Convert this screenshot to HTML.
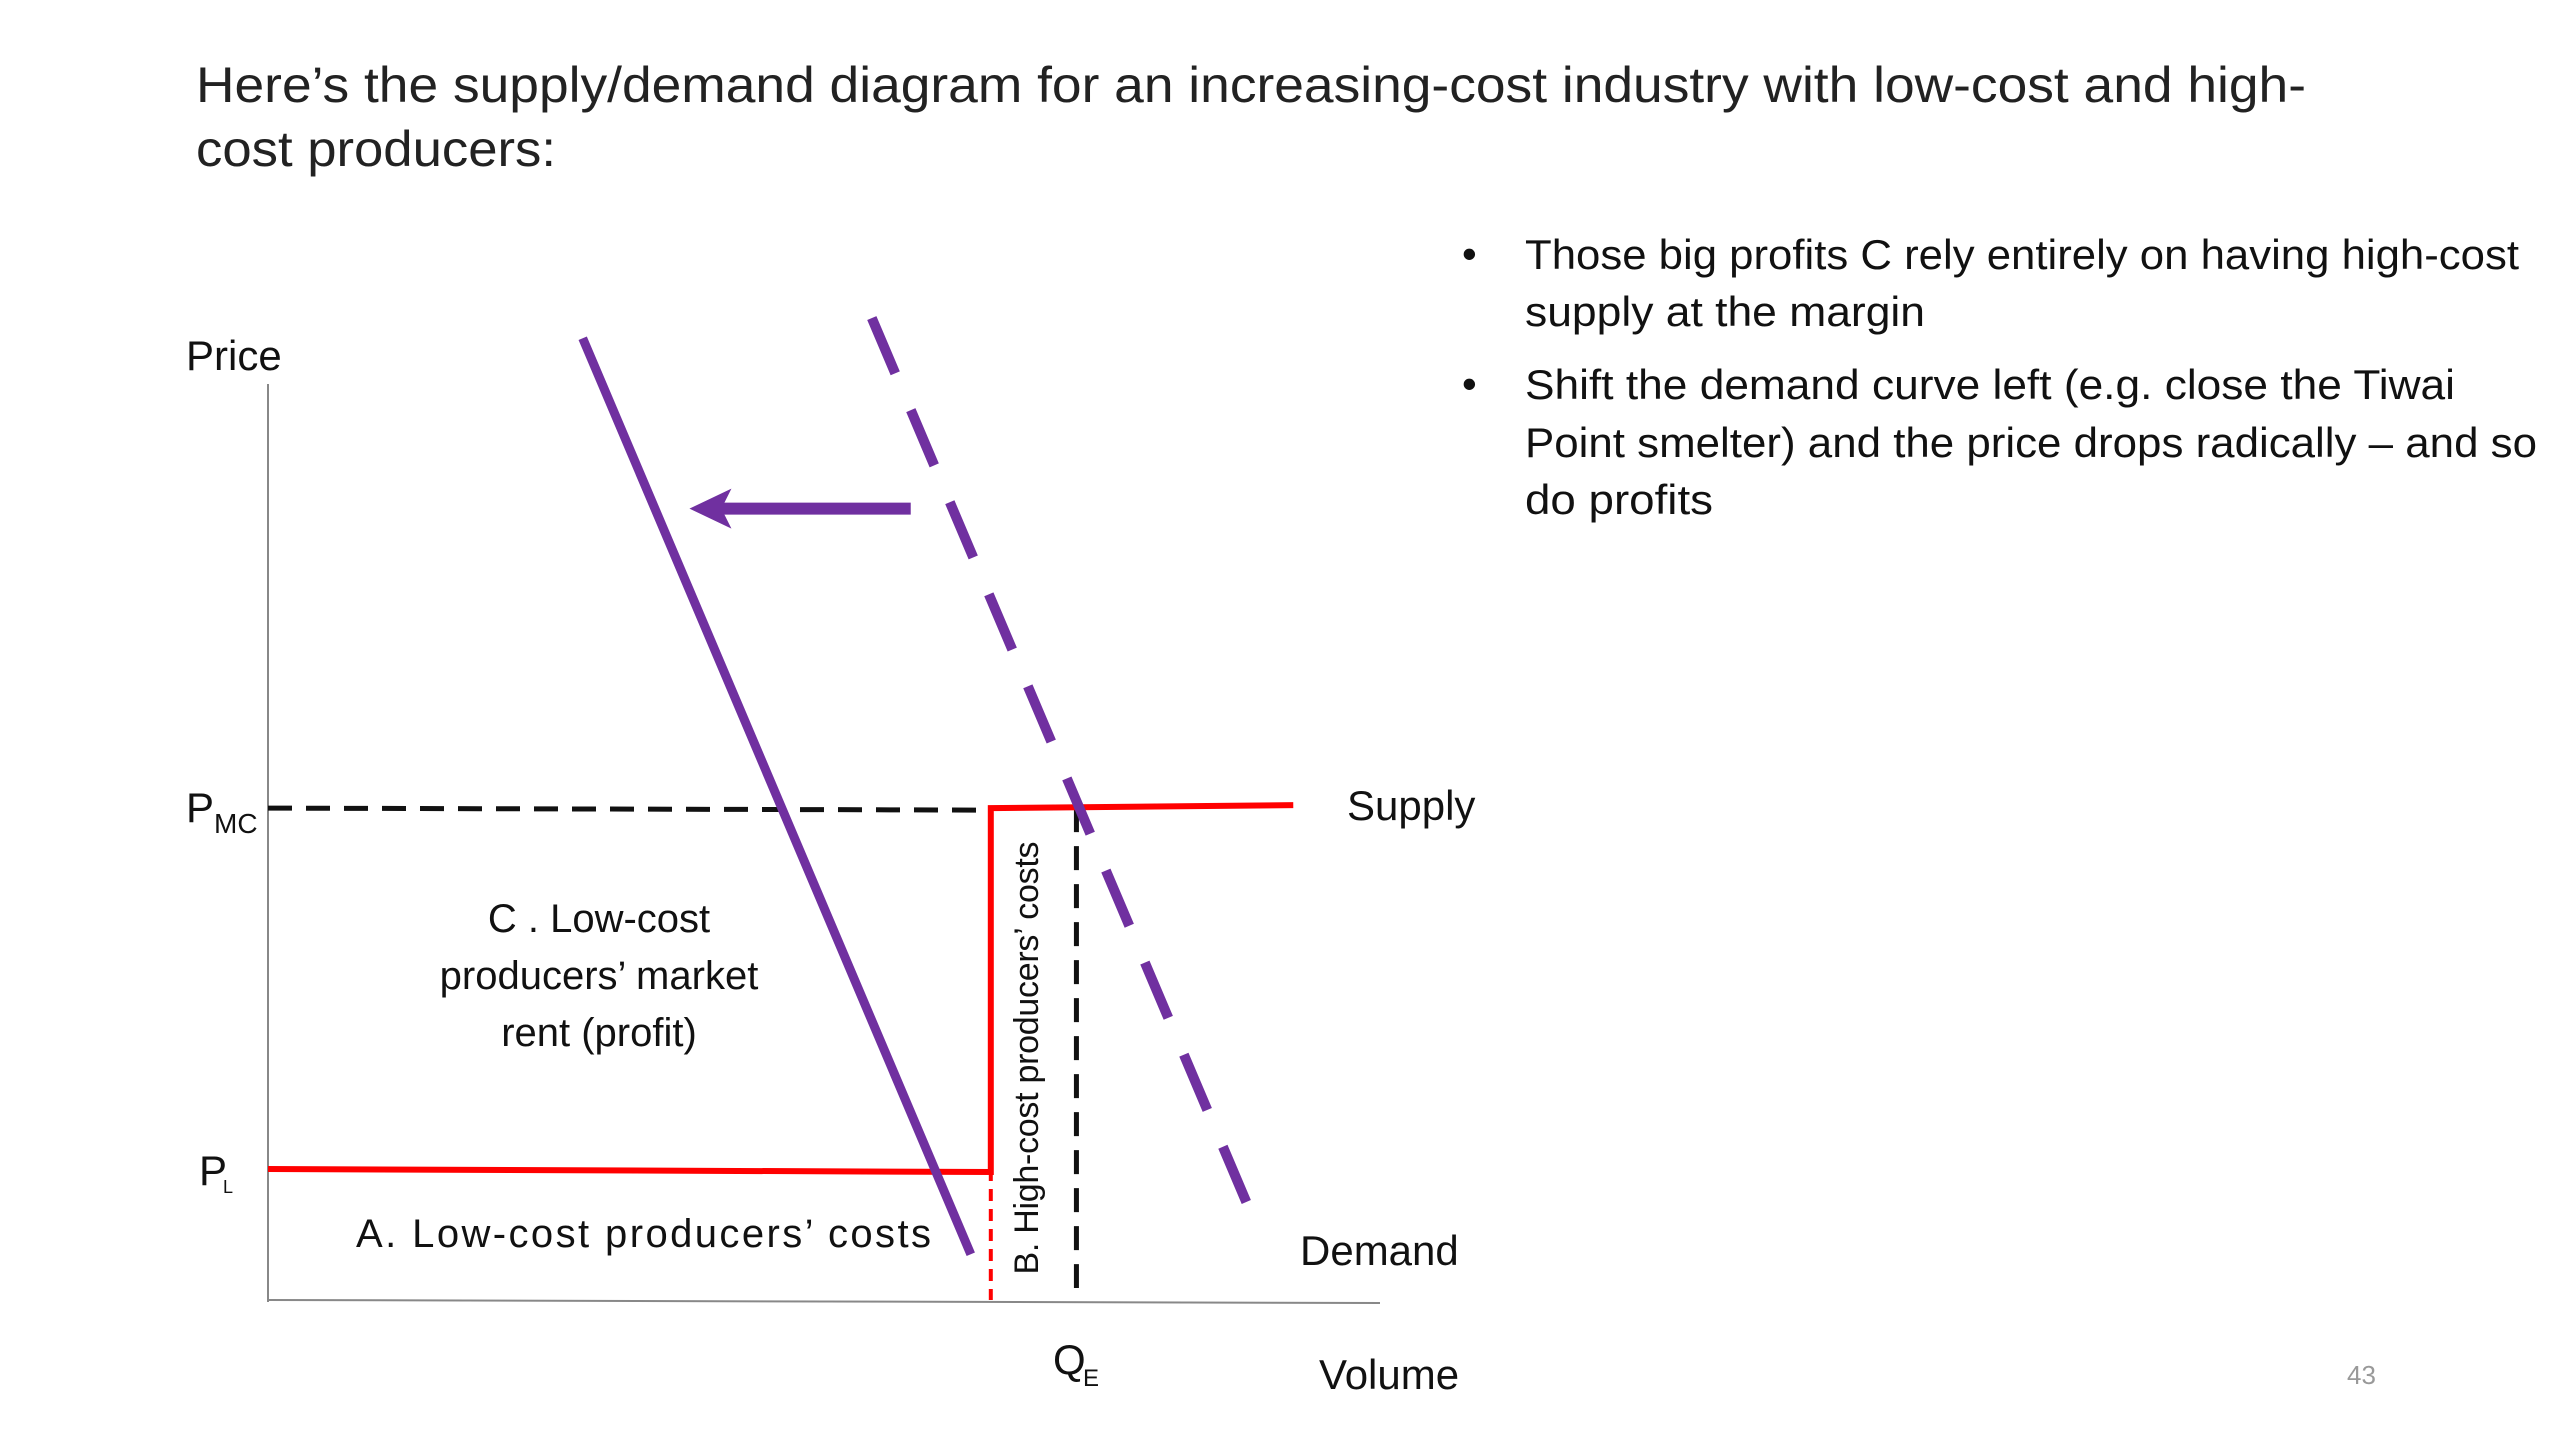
<!DOCTYPE html>
<html><head><meta charset="utf-8"><style>
html,body{margin:0;padding:0;background:#fff;}
svg{display:block;font-family:"Liberation Sans",sans-serif;}
</style></head><body>
<svg id="chart" width="2560" height="1440" viewBox="0 0 2560 1440" xmlns="http://www.w3.org/2000/svg">
<rect width="2560" height="1440" fill="#fff"/>
<text x="196" y="102" font-size="50" fill="#222" textLength="2110" lengthAdjust="spacingAndGlyphs">Here’s the supply/demand diagram for an increasing-cost industry with low-cost and high-</text>
<text x="196" y="166" font-size="50" fill="#222" textLength="360" lengthAdjust="spacingAndGlyphs">cost producers:</text>
<g font-size="42" fill="#111">
<text x="1462" y="268">•</text>
<text x="1525" y="269" textLength="994" lengthAdjust="spacingAndGlyphs">Those big profits C rely entirely on having high-cost</text>
<text x="1525" y="326" textLength="400" lengthAdjust="spacingAndGlyphs">supply at the margin</text>
<text x="1462" y="398">•</text>
<text x="1525" y="399" textLength="930" lengthAdjust="spacingAndGlyphs">Shift the demand curve left (e.g. close the Tiwai</text>
<text x="1525" y="457" textLength="1012" lengthAdjust="spacingAndGlyphs">Point smelter) and the price drops radically – and so</text>
<text x="1525" y="514" textLength="188" lengthAdjust="spacingAndGlyphs">do profits</text>
</g>
<text x="2347" y="1384" font-size="26" fill="#999">43</text>
<g id="plot"></g>
</svg>
<script>
// Data (volume 0-100, price 0-100)
const priceLevels = [14.3, 53.7];          // P_L, P_MC
const capacityLow = 65;                    // low-cost producers' capacity
const supplyEnd = 92.2;
const qEquilibrium = 72.7;
const demandNewQ = [28.3, 63.2];          const demandNewP = [105, 5];
const demandOldQ = [54.3, 88.5];          const demandOldP = [107.2, 9.2];
const arrowQ = [57.8, 37.9];              const arrowP = [86.4, 86.4];

const X0=268, X1=1380, Y0=1300, Y1=384;
const xs = v => X0 + v*(X1-X0)/100;
const ys = p => Y0 - p*(Y0-Y1)/100;
const NS="http://www.w3.org/2000/svg";
const g=document.getElementById('plot');
function mk(tag,attrs){const e=document.createElementNS(NS,tag);for(const k in attrs)e.setAttribute(k,attrs[k]);g.appendChild(e);return e;}
function line(x1,y1,x2,y2,st,w,dash){return mk('line',{x1,y1,x2,y2,stroke:st,'stroke-width':w,'stroke-dasharray':dash||'none'});}
function txt(x,y,s,size,anchor){const t=mk('text',{x,y,'font-size':size,fill:'#111','text-anchor':anchor||'start'});t.textContent=s;return t;}

let e;
e=line(X0,Y1,X0,Y0+2,'#888',2);


e=line(X0,Y0,X1,Y0+3,'#888',2);



e=line(X0,ys(priceLevels[1]),xs(capacityLow),ys(priceLevels[1])+2,'#111',5,'24 14');


e=line(xs(qEquilibrium),ys(priceLevels[1]),xs(qEquilibrium),Y0-12,'#111',5,'24 14');


e=line(xs(capacityLow),ys(priceLevels[0]),xs(capacityLow),Y0,'#f00',4,'12 8');



e=mk('polyline',{points:`${X0},${ys(priceLevels[0])} ${xs(capacityLow)},${ys(priceLevels[0])+3} ${xs(capacityLow)},${ys(priceLevels[1])} ${xs(supplyEnd)},${ys(priceLevels[1])-3}`,fill:'none',stroke:'#f00','stroke-width':6});



e=line(xs(demandNewQ[0]),ys(demandNewP[0]),xs(demandNewQ[1]),ys(demandNewP[1]),'#7030a0',9);


e=line(xs(demandOldQ[0]),ys(demandOldP[0]),xs(demandOldQ[1]),ys(demandOldP[1]),'#7030a0',10,'60 40');



const ay=ys(arrowP[0]);
e=line(xs(arrowQ[0]),ay,xs(arrowQ[1])+30,ys(arrowP[1]),'#7030a0',12);


const ax=xs(arrowQ[1]);
e=mk('polygon',{points:`${ax},${ay} ${ax+42},${ay-20} ${ax+32},${ay} ${ax+42},${ay+20}`,fill:'#7030a0'});



e=txt(186,370,'Price',42);


e=txt(186,822,'P',42);


e=txt(214,833,'MC',28);


e=txt(199,1185,'P',42);


e=txt(223,1193,'L',18);


e=txt(1347,820,'Supply',42);


e=txt(1300,1265,'Demand',42);


e=txt(1319,1389,'Volume',42);


e=txt(1053,1374,'Q',42);


e=txt(1083,1386,'E',24);



const cLines=['C .    Low-cost','producers’ market','rent (profit)'];
cLines.forEach((s,i)=>{
  const t=txt(599,932+i*57,s,40,'middle');
  
  
});
e=txt(356,1247,'A.   Low-cost producers’ costs',40);
e.setAttribute('textLength','575');


e=txt(0,0,'B. High-cost producers’ costs',34,'middle');
e.setAttribute('transform','translate(1038,1058) rotate(-90)');
e.setAttribute('textLength','433');


</script>
</body></html>
